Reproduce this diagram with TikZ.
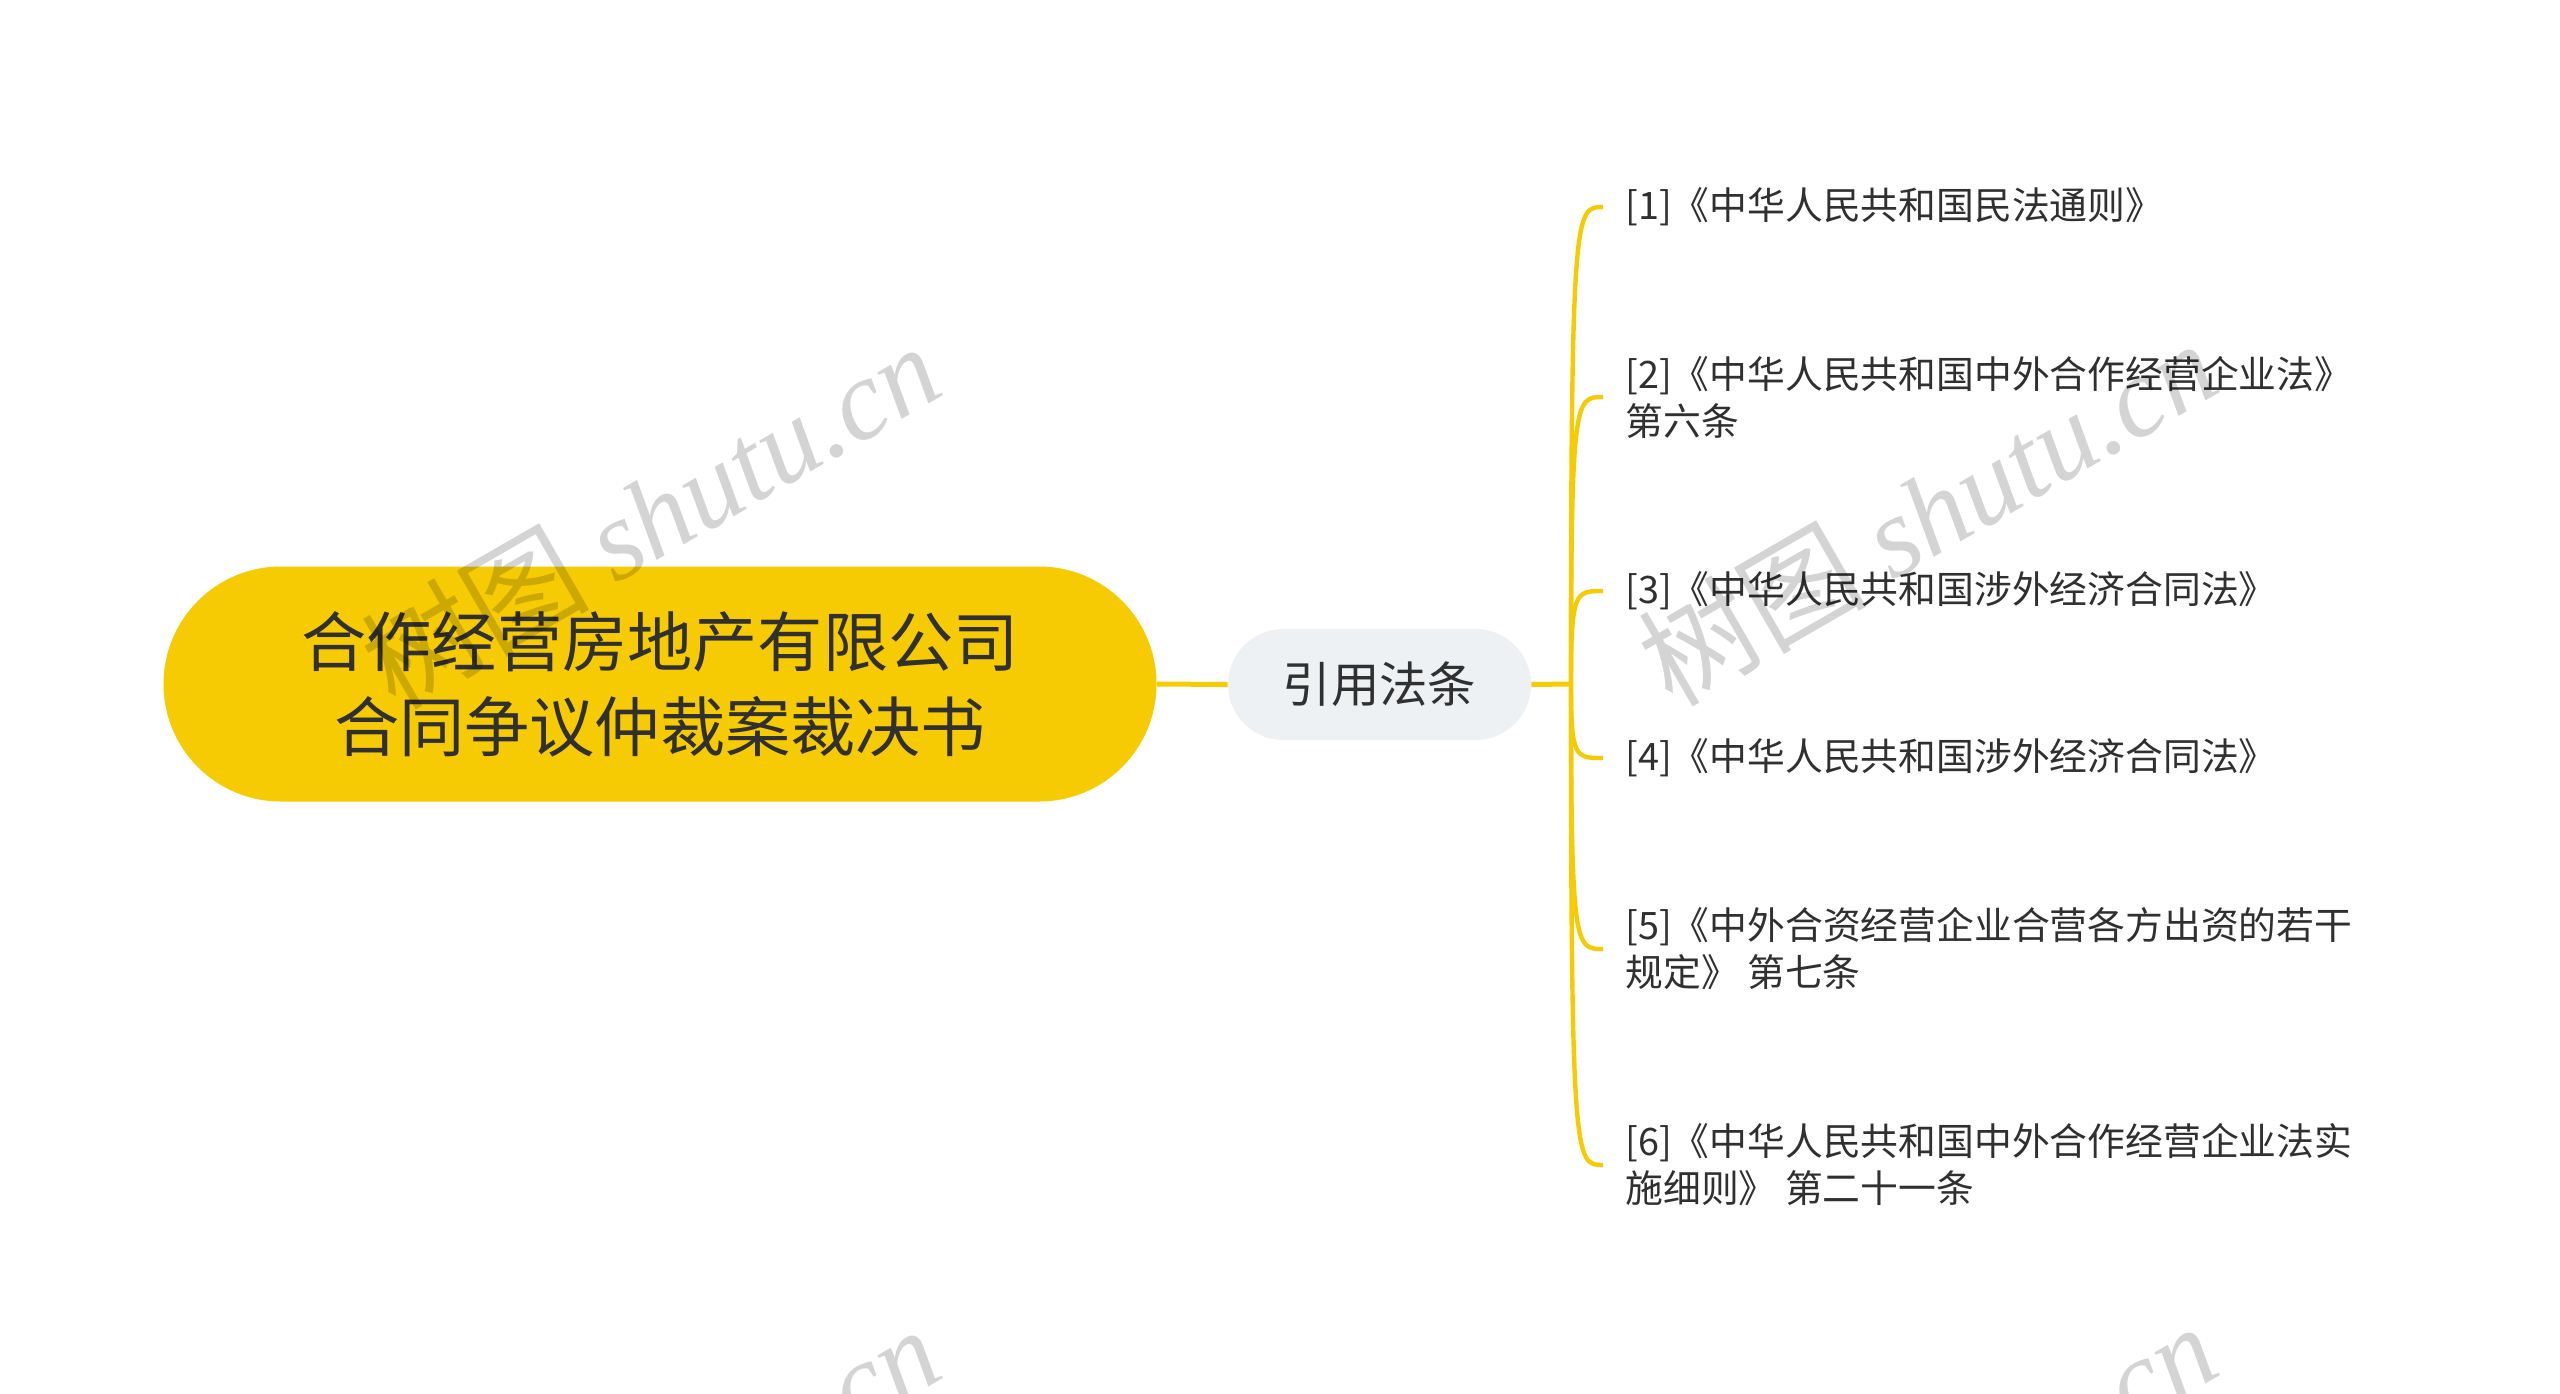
\documentclass[tikz,border=0pt]{standalone}
\usepackage{fontspec}
\setmainfont{Noto Sans CJK SC}
\newfontfamily\wmlatin{Liberation Serif}
\usetikzlibrary{calc}
\definecolor{myyellow}{RGB}{246,203,4}
\definecolor{midfill}{RGB}{238,241,244}
\definecolor{txt}{RGB}{48,48,48}
\begin{document}
\begin{tikzpicture}[x=0.5pt,y=-0.5pt,
 rootbox/.style={fill=myyellow, rounded corners=58.7pt, minimum width=496.5pt, minimum height=117.5pt, inner sep=0pt, align=center, text=txt, font=\fontsize{32.6}{42.5}\selectfont},
 midbox/.style={fill=midfill, rounded corners=27.7pt, minimum width=151.5pt, minimum height=55.5pt, inner sep=0pt, text=txt, font=\fontsize{24.2}{30}\selectfont},
 leaf/.style={anchor=west, inner sep=0pt, align=left, text=txt, font=\fontsize{18.9}{23.5}\selectfont},
 conn/.style={draw=myyellow, line width=2.5pt},
 branch/.style={draw=myyellow, line width=2.2pt},
 wm/.style={rotate=30, text=black, opacity=0.17, font=\fontsize{57}{57}\selectfont, inner sep=0pt}
]
\useasboundingbox (0,0) rectangle (2560,1393);
\fill[white] (0,0) rectangle (2560,1393);
% nodes
\node[rootbox] (root) at (660,684) {合作经营房地产有限公司\\合同争议仲裁案裁决书};
\node[midbox] (mid) at (1379.5,684.5) {引用法条};
\coordinate (hub) at (1571,684);
\node[leaf] (l1) at (1625,207) {[1]《中华人民共和国民法通则》};
\node[leaf] (l2) at (1625,397) {[2]《中华人民共和国中外合作经营企业法》\\第六条};
\node[leaf] (l3) at (1625,591) {[3]《中华人民共和国涉外经济合同法》};
\node[leaf] (l4) at (1625,758) {[4]《中华人民共和国涉外经济合同法》};
\node[leaf] (l5) at (1625,949) {[5]《中外合资经营企业合营各方出资的若干\\规定》 第七条};
\node[leaf] (l6) at (1625,1165) {[6]《中华人民共和国中外合作经营企业法实\\施细则》 第二十一条};
% connectors
\draw[conn] (root.east) -- (mid.west);
\draw[conn] (mid.east) -- (hub);
\foreach \n in {l1,l2,l3,l4,l5,l6}
  \draw[branch] (hub) .. controls (hub |- \n.west) and ($(hub |- \n.west)+(4,0)$) .. ([xshift=-11pt]\n.west);
% watermarks
\begin{scope}
\clip (0,0) rectangle (2560,1393);
\node[wm] (wm1) at (650,515) {树图 {\wmlatin\itshape shutu.cn}};
\node[wm] (wm2) at (1927,512) {树图 {\wmlatin\itshape shutu.cn}};
\node[wm] (wm3) at (650,1498) {树图 {\wmlatin\itshape shutu.cn}};
\node[wm] (wm4) at (1927,1495) {树图 {\wmlatin\itshape shutu.cn}};
\end{scope}
\end{tikzpicture}
\end{document}
